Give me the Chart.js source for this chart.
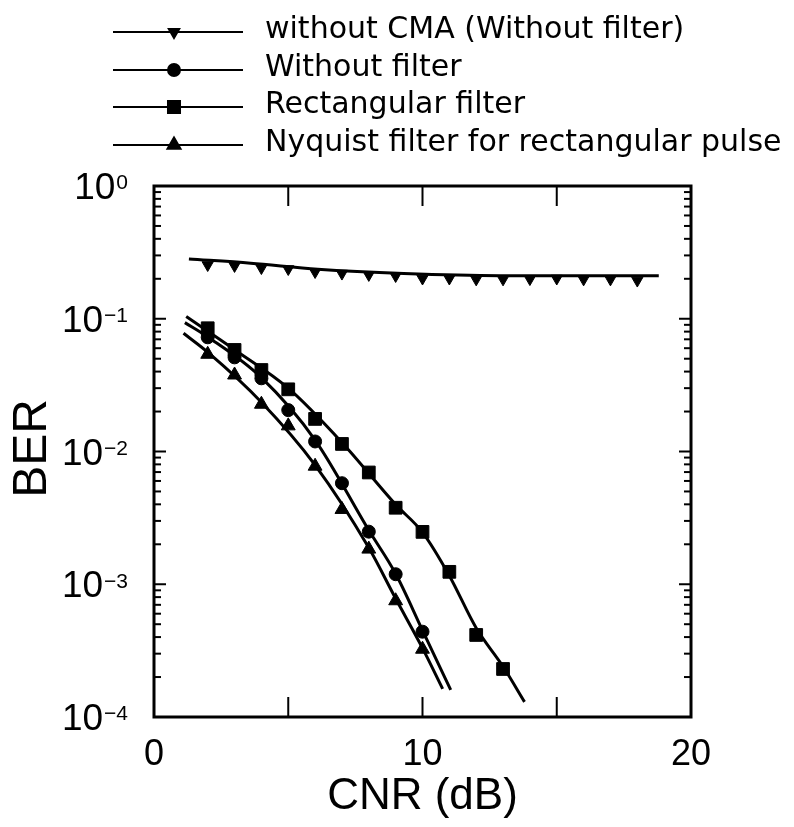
<!DOCTYPE html>
<html lang="en">
<head>
  <meta charset="UTF-8">
  <title>BER vs CNR</title>
  <script src="https://cdn.jsdelivr.net/npm/chart.js"></script>
  <style>
    html, body { margin: 0; padding: 0; background: #fff; }
    #wrap { width: 794px; height: 827px; }
  </style>
</head>
<body>
  <div id="wrap"><canvas id="berChart" width="794" height="827"></canvas></div>

  <script>
    // measured points
    const cnrNoCma = [2, 3, 4, 5, 6, 7, 8, 9, 10, 11, 12, 13, 14, 15, 16, 17, 18];
    const berNoCma = [0.254, 0.250, 0.241, 0.237, 0.225, 0.219, 0.214, 0.210, 0.201,
                      0.201, 0.198, 0.198, 0.199, 0.201, 0.198, 0.198, 0.194];
    const cnrNoFilter = [2, 3, 4, 5, 6, 7, 8, 9, 10];
    const berNoFilter = [0.0725, 0.0512, 0.0356, 0.0205, 0.0119, 0.00577, 0.00249, 0.00119, 0.000439];
    const cnrRect = [2, 3, 4, 5, 6, 7, 8, 9, 10, 11, 12, 13];
    const berRect = [0.0848, 0.0582, 0.0411, 0.0294, 0.0176, 0.0114, 0.00695, 0.00377,
                     0.00248, 0.00124, 0.000415, 0.000230];
    const cnrNyquist = [2, 3, 4, 5, 6, 7, 8, 9, 10];
    const berNyquist = [0.0540, 0.0377, 0.0227, 0.0156, 0.00775, 0.00366, 0.00184, 0.000751, 0.000324];

    // fitted curves
    const fitNoCmaX = [1.3, 3.6, 6.1, 9.3, 12.9, 18.8];
    const fitNoCmaY = [0.282, 0.262, 0.236, 0.219, 0.211, 0.211];
    const fitNoFilterX = [1.15, 2, 4, 6, 8, 9, 10, 11.05];
    const fitNoFilterY = [0.0935, 0.0730, 0.0360, 0.0122, 0.00255, 0.00120, 0.00045, 0.00016];
    const fitRectX = [1.2, 3, 5, 7, 9, 10, 11, 12, 13, 13.8];
    const fitRectY = [0.104, 0.0585, 0.0300, 0.0117, 0.00398, 0.00246, 0.00116, 0.000468, 0.000240, 0.000130];
    const fitNyquistX = [1.1, 2, 4, 6, 8, 9, 10, 10.75];
    const fitNyquistY = [0.0777, 0.056, 0.0235, 0.0079, 0.00188, 0.00078, 0.00033, 0.000163];

    // axes
    const xTickLabels = [0, 10, 20];
    const xTickMarks = [5, 10, 15];
    const yDecades = [0, -1, -2, -3, -4];

    const legendLabels = [
      'without CMA (Without filter)',
      'Without filter',
      'Rectangular filter',
      'Nyquist filter for rectangular pulse'
    ];

    const FONT = '"Liberation Sans", Arial, sans-serif';
    const LEGEND_FONT = '"DejaVu Sans", sans-serif';

    function toPoints(xs, ys) {
      return xs.map((x, i) => ({ x: x, y: ys[i] }));
    }

    function curve(xs, ys) {
      return {
        data: toPoints(xs, ys),
        showLine: true,
        borderColor: '#000',
        borderWidth: 3,
        pointRadius: 0,
        cubicInterpolationMode: 'monotone',
        order: 1
      };
    }

    function markers(xs, ys, style, radius, rotation) {
      return {
        data: toPoints(xs, ys),
        showLine: false,
        pointStyle: style,
        pointRadius: radius,
        pointRotation: rotation || 0,
        backgroundColor: '#000',
        borderColor: '#000',
        borderWidth: 1,
        order: 0
      };
    }

    const markerStyles = [
      { pointStyle: 'triangle', radius: 6.5, rotation: 180 },
      { pointStyle: 'circle', radius: 6.5, rotation: 0 },
      { pointStyle: 'rect', radius: 9, rotation: 0 },
      { pointStyle: 'triangle', radius: 8, rotation: 0 }
    ];

    function line(ctx, x1, y1, x2, y2) {
      ctx.beginPath();
      ctx.moveTo(x1, y1);
      ctx.lineTo(x2, y2);
      ctx.stroke();
    }

    // frame, inward ticks, labels, titles and the legend
    const axisDecor = {
      id: 'axisDecor',
      afterDraw(chart) {
        const ctx = chart.ctx;
        const a = chart.chartArea;
        const xs = chart.scales.x;
        const ys = chart.scales.y;
        ctx.save();
        ctx.strokeStyle = '#000';
        ctx.fillStyle = '#000';

        ctx.lineWidth = 3;
        ctx.strokeRect(a.left, a.top, a.right - a.left, a.bottom - a.top);

        ctx.lineWidth = 2;
        xTickMarks.forEach(v => {
          const px = xs.getPixelForValue(v);
          line(ctx, px, a.bottom, px, a.bottom - 20);
          line(ctx, px, a.top, px, a.top + 20);
        });

        yDecades.forEach(e => {
          for (let m = 1; m < 10; m++) {
            const v = m * Math.pow(10, e);
            if (v > 1) break;
            const py = ys.getPixelForValue(v);
            const len = m === 1 ? 12 : 7;
            line(ctx, a.left, py, a.left + len, py);
            line(ctx, a.right, py, a.right - len, py);
          }
        });

        ctx.textBaseline = 'middle';
        ctx.textAlign = 'center';
        ctx.font = '36px ' + FONT;
        xTickLabels.forEach(v => {
          ctx.fillText(String(v), xs.getPixelForValue(v), 755);
        });

        const labelRight = 128;
        yDecades.forEach(e => {
          const py = ys.getPixelForValue(Math.pow(10, e));
          const sup = e === 0 ? '0' : '\u2212' + (-e);
          ctx.font = '21px ' + FONT;
          const supW = ctx.measureText(sup).width;
          ctx.font = '37px ' + FONT;
          const baseW = ctx.measureText('10').width;
          const supX = labelRight - supW;
          ctx.textAlign = 'left';
          ctx.textBaseline = 'middle';
          ctx.fillText('10', supX - baseW - 1, py + 3);
          ctx.font = '21px ' + FONT;
          ctx.textBaseline = 'top';
          ctx.fillText(sup, supX, py - 13);
        });

        ctx.textAlign = 'center';
        ctx.textBaseline = 'middle';
        ctx.font = '44px ' + FONT;
        ctx.fillText('CNR (dB)', (a.left + a.right) / 2, 797);

        ctx.save();
        ctx.translate(33, (a.top + a.bottom) / 2 - 3);
        ctx.rotate(-Math.PI / 2);
        ctx.font = '48px ' + FONT;
        ctx.fillText('BER', 0, 0);
        ctx.restore();

        // legend
        const rowY = [32, 70, 107, 145];
        legendLabels.forEach((label, i) => {
          const y = rowY[i];
          ctx.lineWidth = 2;
          line(ctx, 113, y, 243, y);
          const st = markerStyles[i];
          Chart.helpers.drawPoint(ctx, {
            pointStyle: st.pointStyle,
            radius: st.radius - 0.5,
            rotation: st.rotation,
            borderWidth: 1
          }, 174, y);
          ctx.font = '30px ' + LEGEND_FONT;
          ctx.textAlign = 'left';
          ctx.textBaseline = 'middle';
          ctx.fillText(label, 265, y - 2);
        });

        ctx.restore();
      }
    };

    new Chart(document.getElementById('berChart'), {
      type: 'scatter',
      data: {
        datasets: [
          markers(cnrNoCma, berNoCma, 'triangle', 6.5, 180),
          markers(cnrNoFilter, berNoFilter, 'circle', 6.5),
          markers(cnrRect, berRect, 'rect', 9),
          markers(cnrNyquist, berNyquist, 'triangle', 8),
          curve(fitNoCmaX, fitNoCmaY),
          curve(fitNoFilterX, fitNoFilterY),
          curve(fitRectX, fitRectY),
          curve(fitNyquistX, fitNyquistY)
        ]
      },
      options: {
        responsive: false,
        animation: false,
        devicePixelRatio: 1,
        layout: { padding: { left: 154, right: 103, top: 186, bottom: 110 } },
        plugins: {
          legend: { display: false },
          tooltip: { enabled: false }
        },
        scales: {
          x: { type: 'linear', min: 0, max: 20, display: false },
          y: { type: 'logarithmic', min: 1e-4, max: 1, display: false }
        }
      },
      plugins: [axisDecor]
    });
  </script>
</body>
</html>
